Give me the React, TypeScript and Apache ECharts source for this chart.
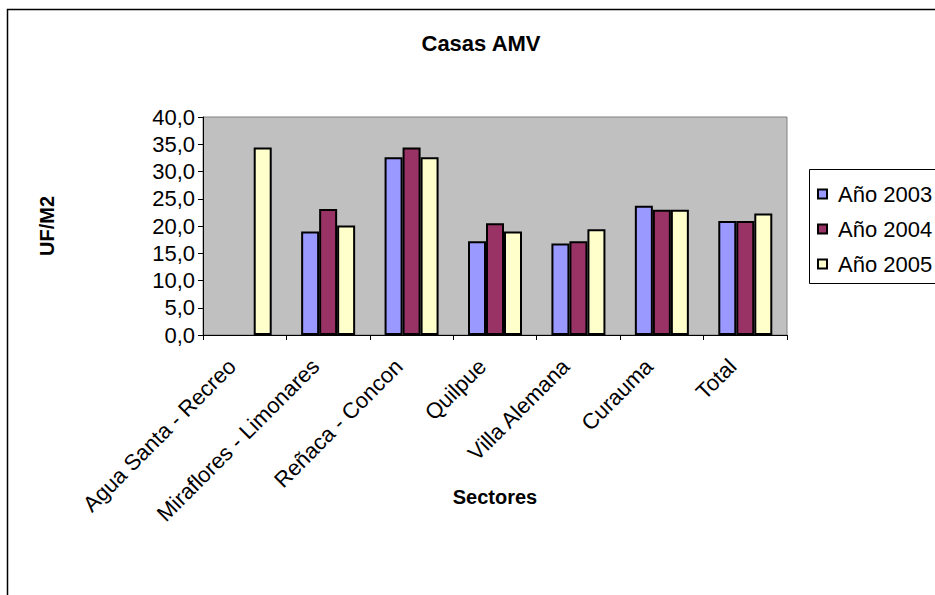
import React, { useEffect, useRef } from "react";
import * as echarts from "echarts";

const categories = [
  "Agua Santa - Recreo",
  "Miraflores - Limonares",
  "Reñaca - Concon",
  "Quilpue",
  "Villa Alemana",
  "Curauma",
  "Total",
];
const seriesNames = ["Año 2003", "Año 2004", "Año 2005"];
const values2003 = [null, 19.0, 32.6, 17.2, 16.8, 23.7, 20.9];
const values2004 = [null, 23.1, 34.4, 20.5, 17.2, 23.0, 20.9];
const values2005 = [34.4, 20.1, 32.6, 19.0, 19.4, 23.0, 22.3];
const colors = ["#9999FF", "#993366", "#FFFFCC"];

const FONT = "'Liberation Sans', Arial, sans-serif";

export default function App() {
  const ref = useRef<HTMLDivElement>(null);
  useEffect(() => {
    if (!ref.current) return;
    const chart = echarts.init(ref.current, undefined, { renderer: "svg" });
    const data = [values2003, values2004, values2005];
    chart.setOption({
      animation: false,
      backgroundColor: "#ffffff",
      textStyle: { fontFamily: FONT },
      title: {
        text: "Casas AMV",
        left: 476,
        top: 27,
        textAlign: "center",
        textStyle: { fontFamily: FONT, fontSize: 22, fontWeight: "bold", color: "#000" },
      },
      legend: {
        orient: "vertical",
        left: 817,
        top: 183,
        padding: 0,
        itemWidth: 9,
        itemHeight: 9,
        itemGap: 13,
        icon: "rect",
        textStyle: { fontFamily: FONT, fontSize: 22, color: "#000", padding: [0, 0, 0, 6] },
        data: seriesNames,
      },
      graphic: [
        {
          type: "rect",
          shape: { x: 7.5, y: 9.5, width: 940, height: 600 },
          style: { fill: "none", stroke: "#000", lineWidth: 1.5 },
          z: -1,
        },
        {
          type: "rect",
          shape: { x: 809.5, y: 169.5, width: 140, height: 114 },
          style: { fill: "#fff", stroke: "#000", lineWidth: 1 },
          z: 0,
        },
      ],
      grid: {
        left: 203,
        top: 117,
        right: 148,
        bottom: 260,
        show: true,
        backgroundColor: "#C0C0C0",
        borderColor: "#808080",
        borderWidth: 1,
      },
      xAxis: {
        type: "category",
        data: categories,
        name: "Sectores",
        nameLocation: "middle",
        nameGap: 152,
        nameMoveOverlap: false,
        nameTextStyle: { fontFamily: FONT, fontSize: 20, fontWeight: "bold", color: "#000" },
        axisLine: { lineStyle: { color: "#000", width: 1 } },
        axisTick: { show: true, length: 5, lineStyle: { color: "#000" } },
        axisLabel: {
          rotate: 45,
          margin: 15,
          padding: [0, 18, 0, 0],
          fontFamily: FONT,
          fontSize: 22,
          color: "#000",
        },
        splitLine: { show: false },
      },
      yAxis: {
        type: "value",
        min: 0,
        max: 40,
        interval: 5,
        name: "UF/M2",
        nameLocation: "middle",
        nameGap: 146,
        nameRotate: 90,
        nameMoveOverlap: false,
        nameTextStyle: { fontFamily: FONT, fontSize: 20, fontWeight: "bold", color: "#000" },
        axisLine: { show: true, lineStyle: { color: "#000", width: 1 } },
        axisTick: { show: true, length: 5, lineStyle: { color: "#000" } },
        axisLabel: {
          margin: 8,
          fontFamily: FONT,
          fontSize: 22,
          color: "#000",
          formatter: (v: number) => v.toFixed(1).replace(".", ","),
        },
        splitLine: { show: false },
      },
      series: seriesNames.map((name, i) => ({
        name,
        type: "bar",
        data: data[i],
        barWidth: 18,
        barGap: "0%",
        itemStyle: { color: colors[i], borderColor: "#000", borderWidth: 2 },
      })),
    });
    return () => chart.dispose();
  }, []);
  return (
    <div
      ref={ref}
      style={{ position: "fixed", left: 0, top: 0, width: 935, height: 595 }}
    />
  );
}
